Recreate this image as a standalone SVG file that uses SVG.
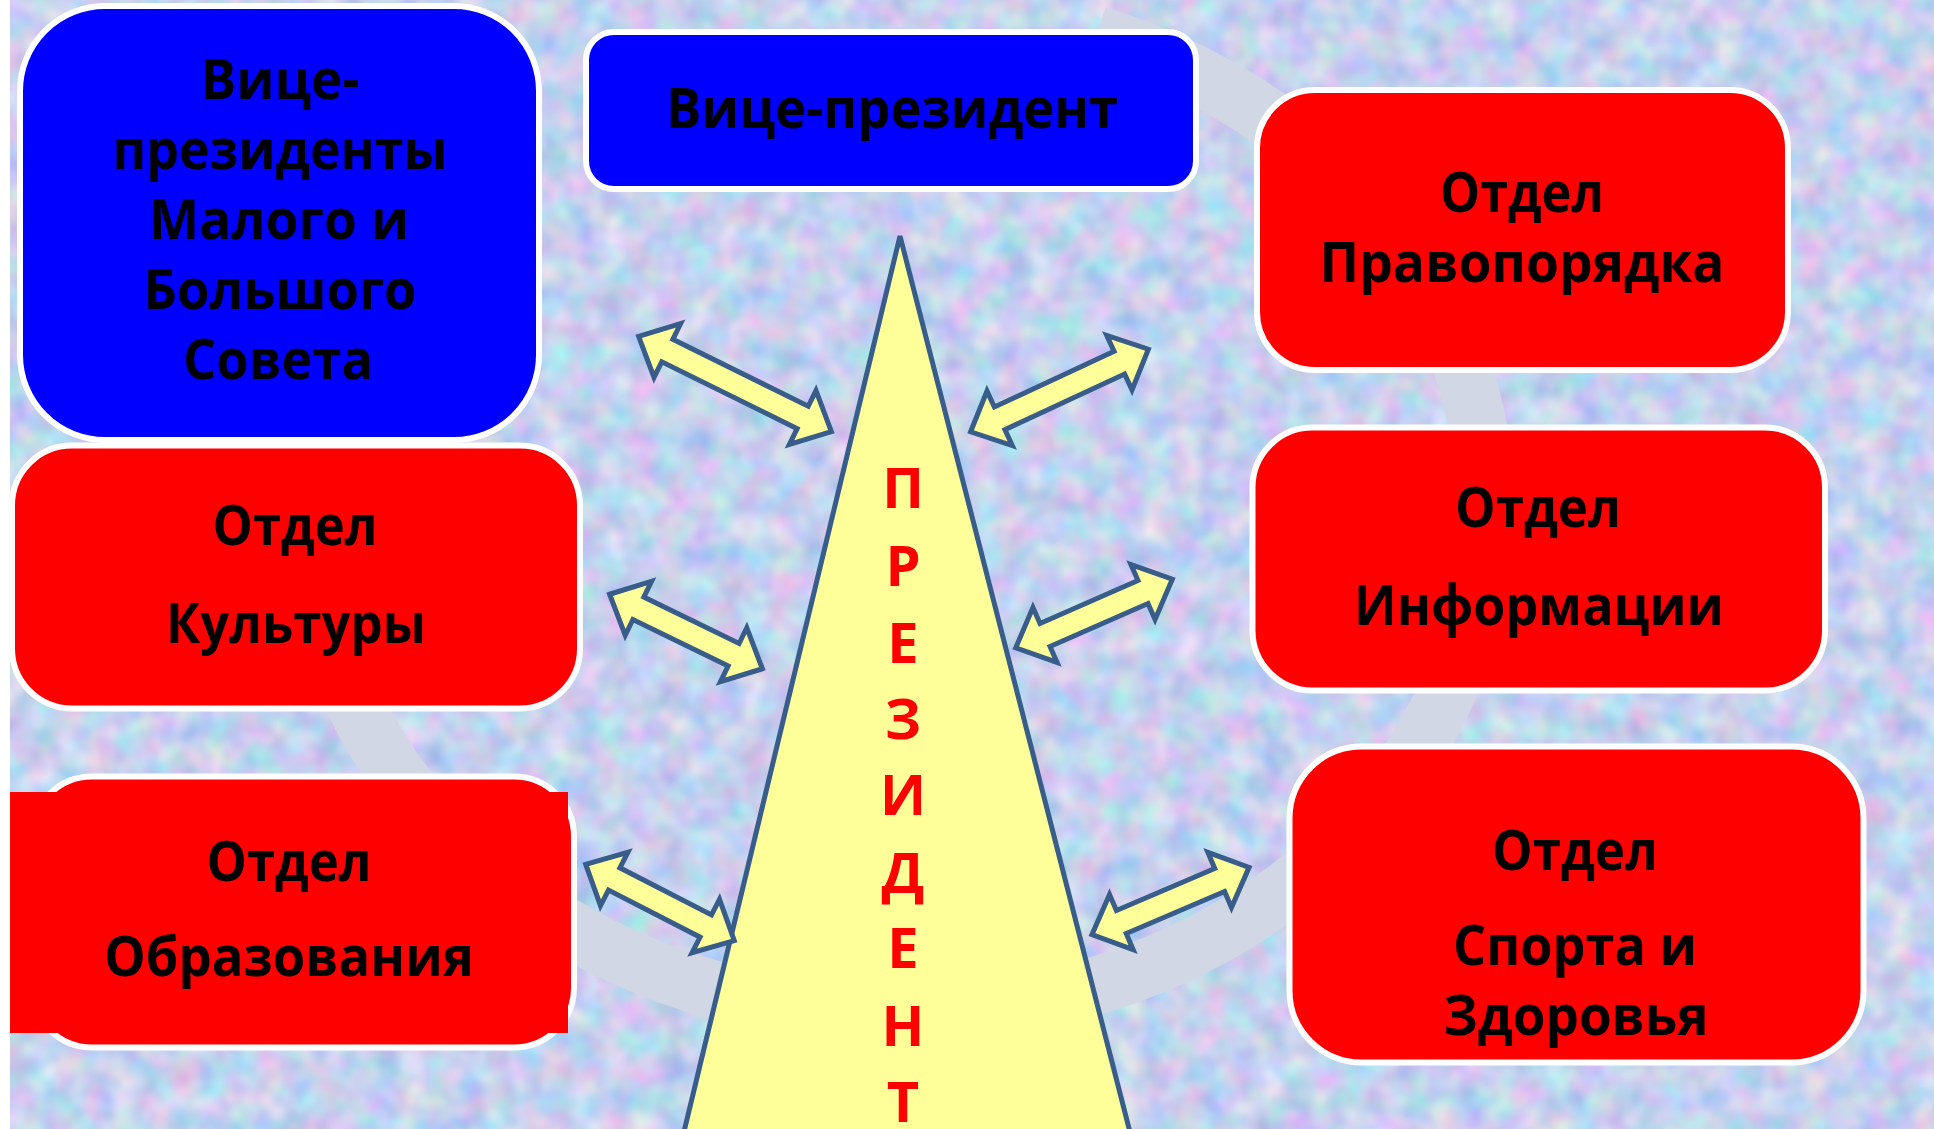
<svg xmlns="http://www.w3.org/2000/svg" width="1934" height="1129" viewBox="0 0 1934 1129">
  <defs>
    <filter id="tex" x="0" y="0" width="1934" height="1129" filterUnits="userSpaceOnUse" color-interpolation-filters="sRGB">
      <feTurbulence type="fractalNoise" baseFrequency="0.035" numOctaves="2" seed="7" result="n"/>
      <feColorMatrix in="n" type="matrix" values="0.45 0 0 0 0.55  0 0.3 0 0 0.67  0 0 0.15 0 0.86  0 0 0 0 1"/>
    </filter>
  </defs>
  <style>
    .bg { fill: #c9d6f0; }
    .ring { fill: none; stroke: #d1d7e4; stroke-width: 58; }
    .red { fill: #ff0000; stroke: #ffffff; stroke-width: 6; }
    .blue { fill: #0000ff; stroke: #ffffff; stroke-width: 6; }
    .lbl { font-family: "Open Sans", "Noto Sans", "DejaVu Sans", sans-serif; font-weight: 700; font-size: 56px; fill: #000000; text-anchor: middle; }
    .pres { font-family: "Open Sans", "Noto Sans", "DejaVu Sans", sans-serif; font-weight: 700; font-size: 56px; fill: #ff0000; text-anchor: middle; }
    .tri { fill: #ffff99; stroke: #385d8a; stroke-width: 5; stroke-linejoin: miter; }
    .arrow { fill: #ffff99; stroke: #385d8a; stroke-width: 5; stroke-linejoin: miter; }
  </style>

  <g id="background">
    <rect class="bg" x="0" y="0" width="1934" height="1129"/>
    <rect x="0" y="0" width="1934" height="1129" filter="url(#tex)"/>
    <rect x="0" y="0" width="10" height="1129" fill="#ffffff"/>
    <path class="ring" d="M 1097 35 A 588 505 0 1 1 312 550"/>
  </g>

  <g id="node-vp-councils">
    <rect class="blue" x="20" y="6" width="519" height="434" rx="85" ry="85"/>
    <text class="lbl" x="280" y="99" textLength="159" lengthAdjust="spacingAndGlyphs">Вице-</text>
    <text class="lbl" x="280" y="169" textLength="335" lengthAdjust="spacingAndGlyphs">президенты</text>
    <text class="lbl" x="279" y="239" textLength="260" lengthAdjust="spacingAndGlyphs">Малого и</text>
    <text class="lbl" x="280" y="309" textLength="273" lengthAdjust="spacingAndGlyphs">Большого</text>
    <text class="lbl" x="278" y="379" textLength="190" lengthAdjust="spacingAndGlyphs">Совета</text>
  </g>

  <g id="node-vp">
    <rect class="blue" x="586" y="32" width="610" height="157" rx="28" ry="28"/>
    <text class="lbl" x="892" y="128" textLength="452" lengthAdjust="spacingAndGlyphs">Вице-президент</text>
  </g>

  <g id="node-law">
    <rect class="red" x="1257" y="90" width="531" height="280" rx="58" ry="58"/>
    <text class="lbl" x="1522" y="212" textLength="164" lengthAdjust="spacingAndGlyphs">Отдел</text>
    <text class="lbl" x="1522" y="282" textLength="405" lengthAdjust="spacingAndGlyphs">Правопорядка</text>
  </g>

  <g id="node-info">
    <rect class="red" x="1252.5" y="427.5" width="572.5" height="263" rx="60" ry="60"/>
    <text class="lbl" x="1538" y="527" textLength="166" lengthAdjust="spacingAndGlyphs">Отдел</text>
    <text class="lbl" x="1539" y="625" textLength="370" lengthAdjust="spacingAndGlyphs">Информации</text>
  </g>

  <g id="node-sport">
    <rect class="red" x="1289.5" y="746.5" width="574" height="316" rx="72" ry="72"/>
    <text class="lbl" x="1575" y="870" textLength="166" lengthAdjust="spacingAndGlyphs">Отдел</text>
    <text class="lbl" x="1575" y="965" textLength="244" lengthAdjust="spacingAndGlyphs">Спорта и</text>
    <text class="lbl" x="1576" y="1035" textLength="265" lengthAdjust="spacingAndGlyphs">Здоровья</text>
  </g>

  <g id="node-culture">
    <rect class="red" x="12" y="445.5" width="568" height="263" rx="60" ry="60"/>
    <text class="lbl" x="295" y="545" textLength="165" lengthAdjust="spacingAndGlyphs">Отдел</text>
    <text class="lbl" x="296" y="643" textLength="260" lengthAdjust="spacingAndGlyphs">Культуры</text>
  </g>

  <g id="node-education">
    <rect class="red" x="32" y="776.5" width="542" height="271" rx="60" ry="60"/>
    <rect x="10" y="792" width="558" height="241" fill="#ff0000"/>
    <text class="lbl" x="289" y="881" textLength="165" lengthAdjust="spacingAndGlyphs">Отдел</text>
    <text class="lbl" x="289" y="976" textLength="370" lengthAdjust="spacingAndGlyphs">Образования</text>
  </g>

  <g id="node-president">
    <polygon class="tri" points="900,236 682,1140 1132,1140"/>
    <text class="pres" x="903" y="508">П</text>
    <text class="pres" x="903" y="586">Р</text>
    <text class="pres" x="903" y="663">Е</text>
    <text class="pres" x="903" y="739">З</text>
    <text class="pres" x="903" y="815">И</text>
    <text class="pres" x="903" y="893">Д</text>
    <text class="pres" x="903" y="968">Е</text>
    <text class="pres" x="903" y="1046">Н</text>
    <text class="pres" x="903" y="1122">Т</text>
  </g>

  <g id="connectors">
    <path class="arrow" transform="translate(735 384) rotate(26.3)" d="M -107.5 0 L -75.5 -30 L -75.5 -12.5 L 75.5 -12.5 L 75.5 -30 L 107.5 0 L 75.5 30 L 75.5 12.5 L -75.5 12.5 L -75.5 30 Z"/>
    <path class="arrow" transform="translate(1059.5 390.5) rotate(-24.9)" d="M -98 0 L -66 -30 L -66 -12.5 L 66 -12.5 L 66 -30 L 98 0 L 66 30 L 66 12.5 L -66 12.5 L -66 30 Z"/>
    <path class="arrow" transform="translate(686 631.5) rotate(26)" d="M -85 0 L -53 -30 L -53 -12.5 L 53 -12.5 L 53 -30 L 85 0 L 53 30 L 53 12.5 L -53 12.5 L -53 30 Z"/>
    <path class="arrow" transform="translate(1094 613.5) rotate(-23.7)" d="M -85.5 0 L -53.5 -30 L -53.5 -12.5 L 53.5 -12.5 L 53.5 -30 L 85.5 0 L 53.5 30 L 53.5 12.5 L -53.5 12.5 L -53.5 30 Z"/>
    <path class="arrow" transform="translate(660 902.5) rotate(27.2)" d="M -83.5 0 L -51.5 -30 L -51.5 -12.5 L 51.5 -12.5 L 51.5 -30 L 83.5 0 L 51.5 30 L 51.5 12.5 L -51.5 12.5 L -51.5 30 Z"/>
    <path class="arrow" transform="translate(1170.5 901) rotate(-23.2)" d="M -85.5 0 L -53.5 -30 L -53.5 -12.5 L 53.5 -12.5 L 53.5 -30 L 85.5 0 L 53.5 30 L 53.5 12.5 L -53.5 12.5 L -53.5 30 Z"/>
  </g>
</svg>
